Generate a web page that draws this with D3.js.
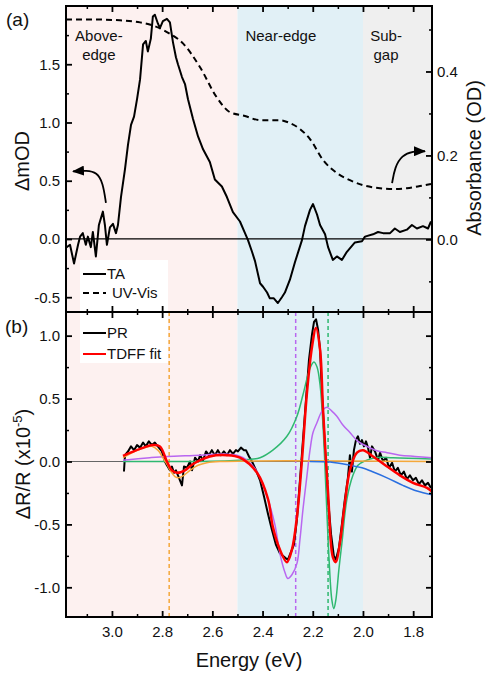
<!DOCTYPE html>
<html>
<head>
<meta charset="utf-8">
<script src="https://cdn.jsdelivr.net/npm/d3@7"></script>
<style>
  body { margin: 0; background: #fff; }
  svg text { font-family: "Liberation Sans", Arial, sans-serif; fill: #111; }
</style>
</head>
<body>
<div id="vis_container"></div>
<script>
// ---- data: [energy (eV), value] ----
var taData = [[3.183,-0.075],[3.167,-0.05],[3.151,-0.21],[3.135,-0.05],[3.127,0.02],[3.116,0.05],[3.104,-0.05],[3.096,0.02],[3.084,-0.07],[3.076,0.06],[3.064,-0.15],[3.052,0.12],[3.036,0.235],[3.028,0.12],[3.020,-0.05],[3.008,0.10],[2.996,0.13],[2.984,0.05],[2.976,0.12],[2.964,0.36],[2.948,0.60],[2.936,0.81],[2.924,0.98],[2.912,1.05],[2.900,1.20],[2.888,1.37],[2.876,1.67],[2.865,1.70],[2.857,1.61],[2.845,1.72],[2.837,1.91],[2.829,1.925],[2.817,1.85],[2.809,1.81],[2.797,1.87],[2.781,1.89],[2.769,1.86],[2.757,1.69],[2.745,1.56],[2.737,1.50],[2.721,1.39],[2.709,1.33],[2.697,1.20],[2.677,1.03],[2.657,0.88],[2.637,0.77],[2.610,0.66],[2.590,0.51],[2.562,0.45],[2.542,0.36],[2.518,0.23],[2.490,0.15],[2.470,0.05],[2.458,-0.01],[2.442,-0.11],[2.430,-0.19],[2.410,-0.38],[2.398,-0.41],[2.382,-0.46],[2.371,-0.51],[2.355,-0.51],[2.339,-0.55],[2.323,-0.50],[2.311,-0.46],[2.291,-0.35],[2.271,-0.20],[2.243,-0.01],[2.231,0.11],[2.211,0.25],[2.199,0.30],[2.183,0.21],[2.171,0.12],[2.151,0.04],[2.139,-0.07],[2.120,-0.18],[2.104,-0.15],[2.084,-0.18],[2.064,-0.11],[2.032,-0.03],[2.004,-0.02],[1.992,0.02],[1.960,0.04],[1.940,0.06],[1.920,0.05],[1.892,0.05],[1.873,0.09],[1.853,0.06],[1.825,0.08],[1.805,0.12],[1.785,0.09],[1.761,0.11],[1.741,0.09],[1.729,0.15]];

var uvData = [[3.183,0.524],[3.088,0.524],[2.968,0.522],[2.888,0.517],[2.829,0.508],[2.781,0.494],[2.717,0.467],[2.649,0.410],[2.582,0.338],[2.530,0.303],[2.470,0.294],[2.410,0.284],[2.331,0.284],[2.291,0.277],[2.251,0.263],[2.211,0.239],[2.159,0.189],[2.104,0.158],[2.052,0.141],[2.000,0.129],[1.932,0.122],[1.880,0.120],[1.825,0.122],[1.773,0.127],[1.729,0.132]];

var prData = [[2.952,-0.08],[2.948,0.05],[2.936,0.08],[2.924,0.12],[2.912,0.09],[2.900,0.13],[2.888,0.11],[2.876,0.15],[2.865,0.12],[2.853,0.16],[2.841,0.13],[2.829,0.15],[2.817,0.12],[2.801,0.08],[2.789,0.00],[2.781,-0.03],[2.769,-0.07],[2.761,-0.04],[2.753,-0.09],[2.745,-0.07],[2.737,-0.11],[2.721,-0.19],[2.713,-0.04],[2.701,-0.05],[2.689,0.00],[2.681,-0.07],[2.669,0.03],[2.657,0.00],[2.649,0.05],[2.637,0.01],[2.625,0.08],[2.614,0.05],[2.602,0.09],[2.590,0.05],[2.578,0.09],[2.566,0.05],[2.554,0.08],[2.542,0.05],[2.530,0.09],[2.518,0.06],[2.506,0.09],[2.498,0.08],[2.486,0.11],[2.474,0.09],[2.466,0.09],[2.454,0.04],[2.442,0.00],[2.426,-0.07],[2.410,-0.15],[2.394,-0.28],[2.378,-0.42],[2.363,-0.54],[2.347,-0.66],[2.331,-0.73],[2.319,-0.75],[2.307,-0.77],[2.299,-0.78],[2.287,-0.72],[2.275,-0.66],[2.263,-0.46],[2.251,-0.15],[2.239,0.17],[2.227,0.49],[2.215,0.81],[2.203,1.01],[2.195,1.11],[2.187,1.13],[2.179,1.05],[2.171,0.89],[2.163,0.53],[2.151,0.09],[2.139,-0.30],[2.127,-0.58],[2.116,-0.75],[2.108,-0.78],[2.096,-0.69],[2.084,-0.50],[2.072,-0.30],[2.060,-0.13],[2.052,0.05],[2.044,-0.08],[2.036,0.09],[2.028,0.17],[2.020,0.20],[2.012,0.14],[2.004,0.17],[1.996,0.12],[1.988,0.16],[1.980,0.11],[1.972,0.03],[1.964,0.12],[1.952,0.08],[1.940,0.01],[1.932,0.07],[1.920,0.00],[1.908,0.03],[1.896,-0.05],[1.884,-0.01],[1.873,-0.08],[1.861,-0.05],[1.849,-0.11],[1.837,-0.08],[1.825,-0.14],[1.813,-0.11],[1.801,-0.15],[1.789,-0.13],[1.777,-0.18],[1.765,-0.15],[1.753,-0.19],[1.741,-0.17],[1.729,-0.21]];

var fitData = [[2.956,0.045],[2.888,0.10],[2.837,0.13],[2.809,0.12],[2.781,0.00],[2.761,-0.07],[2.741,-0.09],[2.709,-0.07],[2.677,-0.02],[2.610,0.04],[2.542,0.05],[2.490,0.03],[2.422,-0.09],[2.378,-0.30],[2.359,-0.52],[2.331,-0.70],[2.303,-0.80],[2.283,-0.70],[2.263,-0.44],[2.243,0.01],[2.223,0.55],[2.203,0.91],[2.187,1.06],[2.171,0.89],[2.159,0.41],[2.139,-0.25],[2.120,-0.76],[2.108,-0.80],[2.092,-0.65],[2.072,-0.33],[2.052,-0.07],[2.024,0.07],[2.000,0.09],[1.960,0.04],[1.904,-0.04],[1.853,-0.11],[1.801,-0.17],[1.745,-0.21],[1.725,-0.24]];

var purpleData = [[2.956,0.01],[2.849,0.03],[2.781,0.04],[2.649,0.05],[2.558,0.06],[2.502,0.05],[2.462,0.01],[2.422,-0.08],[2.382,-0.28],[2.351,-0.50],[2.331,-0.73],[2.311,-0.88],[2.299,-0.93],[2.283,-0.90],[2.263,-0.81],[2.251,-0.62],[2.239,-0.38],[2.223,-0.11],[2.211,0.09],[2.199,0.23],[2.183,0.31],[2.163,0.40],[2.143,0.43],[2.124,0.40],[2.104,0.36],[2.080,0.29],[2.052,0.23],[2.020,0.16],[1.984,0.12],[1.944,0.085],[1.904,0.07],[1.853,0.05],[1.793,0.04],[1.725,0.03]];

var greenData = [[2.956,0.00],[2.649,0.00],[2.530,0.005],[2.462,0.015],[2.410,0.03],[2.359,0.09],[2.303,0.20],[2.263,0.36],[2.239,0.53],[2.219,0.69],[2.207,0.76],[2.195,0.79],[2.183,0.75],[2.171,0.61],[2.159,0.28],[2.147,-0.25],[2.135,-0.78],[2.124,-1.10],[2.116,-1.17],[2.108,-1.10],[2.096,-0.86],[2.084,-0.65],[2.064,-0.30],[2.040,-0.11],[2.020,-0.03],[1.992,0.005],[1.952,0.03],[1.880,0.03],[1.725,0.02]];

var orangeData = [[2.956,0.03],[2.908,0.08],[2.869,0.11],[2.841,0.12],[2.817,0.09],[2.797,0.03],[2.781,-0.02],[2.765,-0.08],[2.749,-0.12],[2.733,-0.13],[2.713,-0.11],[2.689,-0.07],[2.657,-0.03],[2.622,-0.01],[2.570,0.00],[1.725,0.00]];

var blueData = [[2.211,0.00],[2.131,-0.005],[2.052,-0.03],[2.004,-0.05],[1.964,-0.08],[1.904,-0.13],[1.841,-0.19],[1.785,-0.235],[1.725,-0.265]];

// vertical markers (eV) and region bounds
var markerE = [2.772, 2.268, 2.139];
var markerColors = ["#f5a83a", "#b967f0", "#2fb870"];
var regionBounds = [3.183, 2.5, 2.0, 1.725];
var regionNames = [["Above-", "edge"], ["Near-edge"], ["Sub-", "gap"]];
var regionLabelE = [3.052, 2.327, 1.908];

var xTicks = [3.0, 2.8, 2.6, 2.4, 2.2, 2.0, 1.8];
var xMinor = [3.1, 2.9, 2.7, 2.5, 2.3, 2.1, 1.9];
var aLeftTicks = [-0.5, 0.0, 0.5, 1.0, 1.5];
var aLeftMinor = [-0.25, 0.25, 0.75, 1.25, 1.75];
var aRightTicks = [0.0, 0.2, 0.4];
var aRightMinor = [-0.1, 0.1, 0.3, 0.5];
var bTicks = [-1.0, -0.5, 0.0, 0.5, 1.0];
var bMinor = [-0.75, -0.25, 0.25, 0.75];

// curved arrow annotations: left one on the ΔmOD axis, right one on the OD axis
var arrowL = [[3.024, 0.31], [3.036, 0.485], [3.060, 0.571], [3.100, 0.589], [3.155, 0.58]];
var arrowR = [[1.884, 0.134], [1.873, 0.172], [1.845, 0.200], [1.801, 0.210], [1.753, 0.210]];

// ---- layout ----
var width = 491, height = 678;
var left = 66, right = 432;
var aTop = 6, aBot = 312, bTop = 312, bBot = 617;

var svg = d3.select("#vis_container").append("svg")
    .attr("width", width).attr("height", height);

var x = d3.scaleLinear().domain([3.183, 1.725]).range([left, right]);
var yA = d3.scaleLinear().domain([-0.627, 2.0]).range([aBot, aTop]);
var yA2 = d3.scaleLinear().domain([-0.173, 0.556]).range([aBot, aTop]);
var yB = d3.scaleLinear().domain([-1.236, 1.188]).range([bBot, bTop]);

// background regions
var regionFill = ["#fdf1f0", "#e1f0f6", "#efefef"];
for (var i = 0; i < 3; i++) {
    svg.append("rect")
        .attr("x", x(regionBounds[i]))
        .attr("y", aTop)
        .attr("width", x(regionBounds[i + 1]) - x(regionBounds[i]))
        .attr("height", bBot - aTop)
        .attr("fill", regionFill[i]);
}

// region labels
regionNames.forEach(function (lines, i) {
    lines.forEach(function (s, j) {
        svg.append("text")
            .attr("x", x(regionLabelE[i])).attr("y", 41 + j * 19)
            .attr("text-anchor", "middle").style("font-size", "15px")
            .text(s);
    });
});

var defs = svg.append("defs");
defs.selectAll("clipPath")
    .data([["clipA", aTop, aBot], ["clipB", bTop, bBot]])
    .enter().append("clipPath").attr("id", function (d) { return d[0]; })
    .append("rect")
    .attr("x", left).attr("y", function (d) { return d[1]; })
    .attr("width", right - left).attr("height", function (d) { return d[2] - d[1]; });

function fmt(d) { return d.toFixed(1); }

// axes helper: major + minor ticks, inward
function addAxis(gen, scale, ticks, minor, labels, pad, transform) {
    var g = svg.append("g").attr("transform", transform);
    g.call(gen(scale).tickValues(ticks).tickSize(-6).tickPadding(pad)
        .tickFormat(labels ? fmt : ""));
    g.select(".domain").remove();
    g.selectAll("text").style("font-size", "15px").attr("fill", "#111");
    g.selectAll("line").attr("stroke", "#000").attr("stroke-width", 1.8);
    var m = svg.append("g").attr("transform", transform);
    m.call(gen(scale).tickValues(minor).tickSize(-3).tickFormat(""));
    m.select(".domain").remove();
    m.selectAll("line").attr("stroke", "#000").attr("stroke-width", 1.5);
    return g;
}

// ---- panel (a) ----
var pa = svg.append("g").attr("clip-path", "url(#clipA)");
pa.append("line").attr("x1", left).attr("x2", right)
    .attr("y1", yA(0)).attr("y2", yA(0)).attr("stroke", "#000").attr("stroke-width", 1.2);

var lineA = d3.line().x(function (d) { return x(d[0]); }).y(function (d) { return yA(d[1]); });
var lineA2 = d3.line().curve(d3.curveMonotoneX)
    .x(function (d) { return x(d[0]); }).y(function (d) { return yA2(d[1]); });

pa.append("path").attr("d", lineA2(uvData)).attr("fill", "none")
    .attr("stroke", "#000").attr("stroke-width", 2).attr("stroke-dasharray", "6,4");
pa.append("path").attr("d", lineA(taData)).attr("fill", "none")
    .attr("stroke", "#000").attr("stroke-width", 2).attr("stroke-linejoin", "round");

// arrows
defs.append("marker").attr("id", "arr")
    .attr("viewBox", "0 0 12 10").attr("refX", 11).attr("refY", 5)
    .attr("markerUnits", "userSpaceOnUse")
    .attr("markerWidth", 12).attr("markerHeight", 10).attr("orient", "auto")
    .append("path").attr("d", "M0,0 L12,5 L0,10 z").attr("fill", "#000");

var arrowLine = d3.line().curve(d3.curveBasis).x(function (d) { return x(d[0]); });
svg.append("path")
    .attr("d", arrowLine.y(function (d) { return yA(d[1]); })(arrowL))
    .attr("fill", "none").attr("stroke", "#000").attr("stroke-width", 1.8)
    .attr("marker-end", "url(#arr)");
svg.append("path")
    .attr("d", arrowLine.y(function (d) { return yA2(d[1]); })(arrowR))
    .attr("fill", "none").attr("stroke", "#000").attr("stroke-width", 1.8)
    .attr("marker-end", "url(#arr)");

// legend (a)
svg.append("rect").attr("x", 80).attr("y", 260).attr("width", 88).attr("height", 51).attr("fill", "#fff");
svg.append("line").attr("x1", 83).attr("x2", 106).attr("y1", 274).attr("y2", 274)
    .attr("stroke", "#000").attr("stroke-width", 2);
svg.append("text").attr("x", 107).attr("y", 279).style("font-size", "15px").text("TA");
svg.append("line").attr("x1", 83).attr("x2", 106).attr("y1", 293).attr("y2", 293)
    .attr("stroke", "#000").attr("stroke-width", 2).attr("stroke-dasharray", "6,4");
svg.append("text").attr("x", 112).attr("y", 298).style("font-size", "15px").text("UV-Vis");

// axes (a)
addAxis(d3.axisLeft, yA, aLeftTicks, aLeftMinor, true, 6, "translate(" + left + ",0)");
addAxis(d3.axisRight, yA2, aRightTicks, aRightMinor, true, 5, "translate(" + right + ",0)");
addAxis(d3.axisTop, x, xTicks, xMinor, false, 3, "translate(0," + aTop + ")");
addAxis(d3.axisBottom, x, xTicks, xMinor, false, 3, "translate(0," + aBot + ")");

// ---- panel (b) ----
var pb = svg.append("g").attr("clip-path", "url(#clipB)");
pb.append("line").attr("x1", left).attr("x2", right)
    .attr("y1", yB(0)).attr("y2", yB(0)).attr("stroke", "#666").attr("stroke-width", 1.2);

markerE.forEach(function (e, i) {
    pb.append("line").attr("x1", x(e)).attr("x2", x(e))
        .attr("y1", bTop).attr("y2", bBot)
        .attr("stroke", markerColors[i]).attr("stroke-width", 1.5)
        .attr("stroke-dasharray", "4,3");
});

var lineB = d3.line().x(function (d) { return x(d[0]); }).y(function (d) { return yB(d[1]); });
var smoothB = d3.line().curve(d3.curveCatmullRom.alpha(0.5))
    .x(function (d) { return x(d[0]); }).y(function (d) { return yB(d[1]); });

pb.append("path").attr("d", lineB(prData)).attr("fill", "none")
    .attr("stroke", "#000").attr("stroke-width", 2).attr("stroke-linejoin", "round");
pb.append("path").attr("d", smoothB(greenData)).attr("fill", "none")
    .attr("stroke", "#2fb870").attr("stroke-width", 1.5);
pb.append("path").attr("d", smoothB(purpleData)).attr("fill", "none")
    .attr("stroke", "#b967f0").attr("stroke-width", 1.5);
pb.append("path").attr("d", smoothB(orangeData)).attr("fill", "none")
    .attr("stroke", "#f5a83a").attr("stroke-width", 1.5);
pb.append("path").attr("d", smoothB(blueData)).attr("fill", "none")
    .attr("stroke", "#2a6fe0").attr("stroke-width", 1.5);
pb.append("path").attr("d", smoothB(fitData)).attr("fill", "none")
    .attr("stroke", "#ff0000").attr("stroke-width", 2.5);

// legend (b)
svg.append("rect").attr("x", 80).attr("y", 313).attr("width", 88).attr("height", 50).attr("fill", "#fff");
svg.append("line").attr("x1", 83).attr("x2", 106).attr("y1", 333).attr("y2", 333)
    .attr("stroke", "#000").attr("stroke-width", 2);
svg.append("text").attr("x", 107).attr("y", 338).style("font-size", "15px").text("PR");
svg.append("line").attr("x1", 83).attr("x2", 106).attr("y1", 354).attr("y2", 354)
    .attr("stroke", "#ff0000").attr("stroke-width", 2);
svg.append("text").attr("x", 107).attr("y", 359).style("font-size", "15px").text("TDFF fit");

// axes (b)
addAxis(d3.axisLeft, yB, bTicks, bMinor, true, 6, "translate(" + left + ",0)");
addAxis(d3.axisRight, yB, bTicks, bMinor, false, 5, "translate(" + right + ",0)");
addAxis(d3.axisTop, x, xTicks, xMinor, false, 3, "translate(0," + bTop + ")");
addAxis(d3.axisBottom, x, xTicks, xMinor, true, 9, "translate(0," + bBot + ")");

// frames
[[aTop, aBot], [bTop, bBot]].forEach(function (p) {
    svg.append("rect").attr("x", left).attr("y", p[0])
        .attr("width", right - left).attr("height", p[1] - p[0])
        .attr("fill", "none").attr("stroke", "#000").attr("stroke-width", 2);
});

// panel tags and axis titles
svg.append("text").attr("x", 6).attr("y", 26).style("font-size", "19px").text("(a)");
svg.append("text").attr("x", 5).attr("y", 333).style("font-size", "19px").text("(b)");

svg.append("text").attr("transform", "translate(29,161) rotate(-90)")
    .attr("text-anchor", "middle").style("font-size", "20px").text("\u0394mOD");
svg.append("text").attr("transform", "translate(481,158) rotate(-90)")
    .attr("text-anchor", "middle").style("font-size", "20px").text("Absorbance (OD)");

var yl = svg.append("text").attr("transform", "translate(30,464) rotate(-90)")
    .attr("text-anchor", "middle").style("font-size", "20px");
yl.append("tspan").text("\u0394R/R (x10");
yl.append("tspan").attr("dy", -8).style("font-size", "13px").text("-5");
yl.append("tspan").attr("dy", 8).text(")");

svg.append("text").attr("x", 249).attr("y", 667)
    .attr("text-anchor", "middle").style("font-size", "20px").text("Energy (eV)");
</script>
</body>
</html>
